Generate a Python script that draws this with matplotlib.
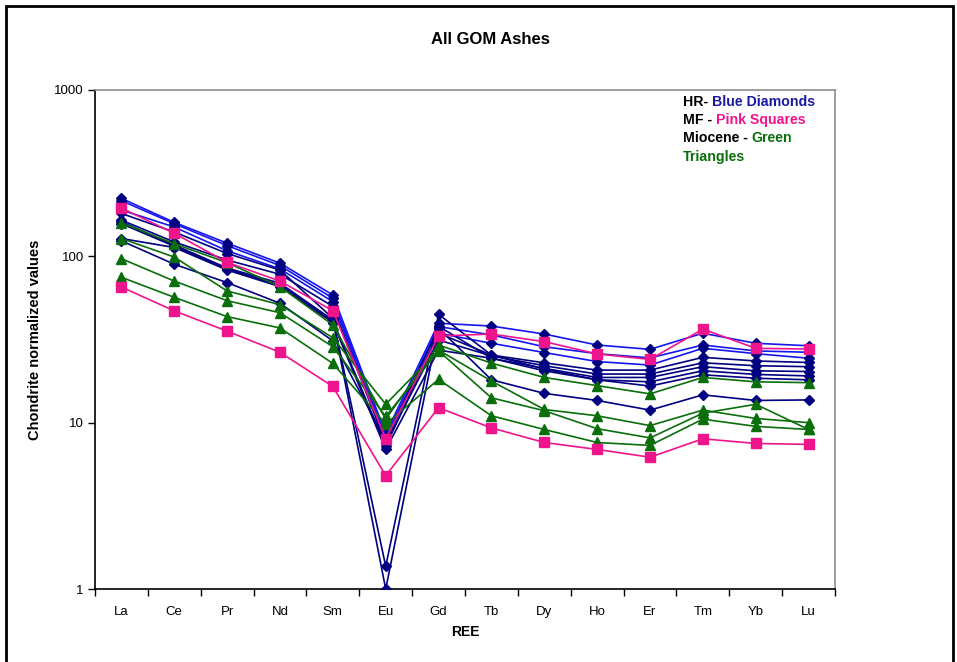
import matplotlib
matplotlib.use("Agg")
import matplotlib.pyplot as plt
import matplotlib.patches as patches
import numpy as np

plt.rcParams['font.family'] = ['Liberation Sans', 'DejaVu Sans']

ree = ["La", "Ce", "Pr", "Nd", "Sm", "Eu", "Gd", "Tb", "Dy", "Ho", "Er", "Tm", "Yb", "Lu"]

# HR - blue diamonds
hr1 = [223, 160, 120, 91, 58.6, 8.6, 39.6, 38.1, 34.1, 29.3, 27.6, 34.5, 30.0, 29.0]
hr2 = [216, 157, 116, 88, 56, 8.2, 37.8, 33.7, 28.6, 26.0, 24.5, 29.3, 27.0, 26.5]
hr3 = [190, 150, 108, 84, 53.4, 7.8, 34.5, 30.0, 26.4, 23.3, 22.2, 28.0, 26.0, 24.4]
hr4 = [181, 140, 104, 82.7, 42.4, 1.37, 44.8, 25.5, 22.9, 20.7, 20.7, 24.7, 23.5, 23.0]
hr5 = [165, 122, 95, 78, 50, 7.5, 31.4, 25.2, 22.0, 19.6, 19.6, 22.9, 22.0, 21.7]
hr6 = [161, 117, 85, 68.9, 41.4, 1.0, 38.0, 24.4, 21.2, 18.7, 18.7, 21.7, 20.5, 20.3]
hr7 = [157, 115, 84, 67, 41, 7.2, 34.5, 25.5, 21.0, 18.1, 17.6, 20.5, 19.5, 19.1]
hr8 = [128, 113, 82.7, 65.7, 40, 6.9, 27.3, 24.4, 20.5, 18.1, 16.6, 19.4, 18.5, 18.1]
hr9 = [124, 89.6, 69.5, 52.2, 31, 7.8, 37.0, 18.1, 15.0, 13.6, 11.9, 14.7, 13.6, 13.7]

# MF - pink squares
mf1 = [195, 137.5, 92, 71, 47.1, 8.0, 33.2, 34.1, 30.7, 25.9, 24.0, 36.5, 28.0, 27.7]
mf2 = [65.4, 47, 35.5, 26.5, 16.5, 4.8, 12.3, 9.3, 7.6, 6.9, 6.2, 8.0, 7.5, 7.4]

# Miocene - green triangles
mi1 = [159, 119, 91.6, 65.7, 38.7, 10.5, 29.3, 22.8, 18.7, 16.7, 14.9, 18.7, 17.6, 17.4]
mi2 = [128, 99, 61.9, 51.2, 32.4, 12.9, 27.3, 17.8, 12.0, 11.0, 9.6, 11.9, 10.6, 10.0]
mi3 = [96.8, 71, 54.1, 45.8, 28.6, 10.9, 27.0, 14.1, 11.8, 9.2, 8.1, 11.4, 12.9, 9.1]
mi4 = [74.8, 56.7, 43.4, 37.1, 22.7, 9.8, 18.2, 11.0, 9.1, 7.6, 7.3, 10.5, 9.5, 9.1]

hr_series = [hr1, hr2, hr3, hr4, hr5, hr6, hr7, hr8, hr9]
mf_series = [mf1, mf2]
mi_series = [mi1, mi2, mi3, mi4]

navy = "#000080"
bright = "#1515f0"
pink = "#f0148c"
green = "#0a6e0a"

fig = plt.figure(figsize=(9.57, 6.62), dpi=100)
ax = fig.add_axes([95/957, 1-589/662, (835-95)/957, (589-90)/662])

x = np.arange(len(ree))
for i, s in enumerate(hr_series):
    lc = bright if i in (0, 1, 2) else navy
    ax.plot(x, s, color=lc, lw=1.2, marker="D", ms=5.5, mfc=navy, mec=navy, zorder=3)
for s in mi_series:
    ax.plot(x, s, color=green, lw=1.2, marker="^", ms=7.5, mfc=green, mec=green, zorder=3)
for s in mf_series:
    ax.plot(x, s, color=pink, lw=1.2, marker="s", ms=7, mfc=pink, mec=pink, zorder=4)

ax.set_yscale("log")
ax.set_ylim(1, 1000)
ax.set_xlim(-0.5, len(ree) - 0.5)
ax.set_yticks([1, 10, 100, 1000])
ax.set_yticklabels(["1", "10", "100", "1000"])
ax.yaxis.set_minor_locator(matplotlib.ticker.NullLocator())
ax.set_xticks(x)
ax.set_xticklabels(ree)
ax.set_xticks(np.arange(-0.5, len(ree), 1), minor=True)
ax.tick_params(axis="x", which="major", length=0, pad=12, labelsize=9.5)
ax.tick_params(axis="x", which="minor", length=5, direction="out", width=1)
ax.tick_params(axis="y", which="major", length=5, direction="out", width=1, labelsize=9.5, pad=3)

for sp in ["left", "bottom"]:
    ax.spines[sp].set_color("black")
    ax.spines[sp].set_linewidth(1.2)
for sp in ["top", "right"]:
    ax.spines[sp].set_color("#8c8c8c")
    ax.spines[sp].set_linewidth(1.2)

fig.text(490/957, 1-40/662, "All GOM Ashes", ha="center", va="center", fontsize=12, fontweight="bold")
fig.text(465/957, 1-632/662, "REE", ha="center", va="center", fontsize=10, fontweight="bold")
fig.text(35/957, 1-340/662, "Chondrite normalized values", ha="center", va="center",
         rotation=90, fontsize=10.5, fontweight="bold")

# legend text
lx = 683/957
rows = [("HR- ", "Blue Diamonds", "#1a1aa0", 102),
        ("MF - ", "Pink Squares", pink, 120),
        ("Miocene - ", "Green", green, 138)]
for a, b, c, py in rows:
    t1 = fig.text(lx, 1-py/662, a, ha="left", va="center", fontsize=10.2, fontweight="bold", color="black")
    ax.annotate(b, xy=(1, 0.5), xycoords=t1, ha="left", va="center", fontsize=10.2,
                fontweight="bold", color=c)
fig.text(lx, 1-157/662, "Triangles", ha="left", va="center", fontsize=10.2, fontweight="bold", color=green)

# outer frame
rect = patches.Rectangle((6/957, -0.02), (953-6)/957, 1-6/662+0.02, transform=fig.transFigure,
                         fill=False, edgecolor="black", lw=2, clip_on=False)
fig.patches.append(rect)

fig.savefig("out.png", dpi=100)
